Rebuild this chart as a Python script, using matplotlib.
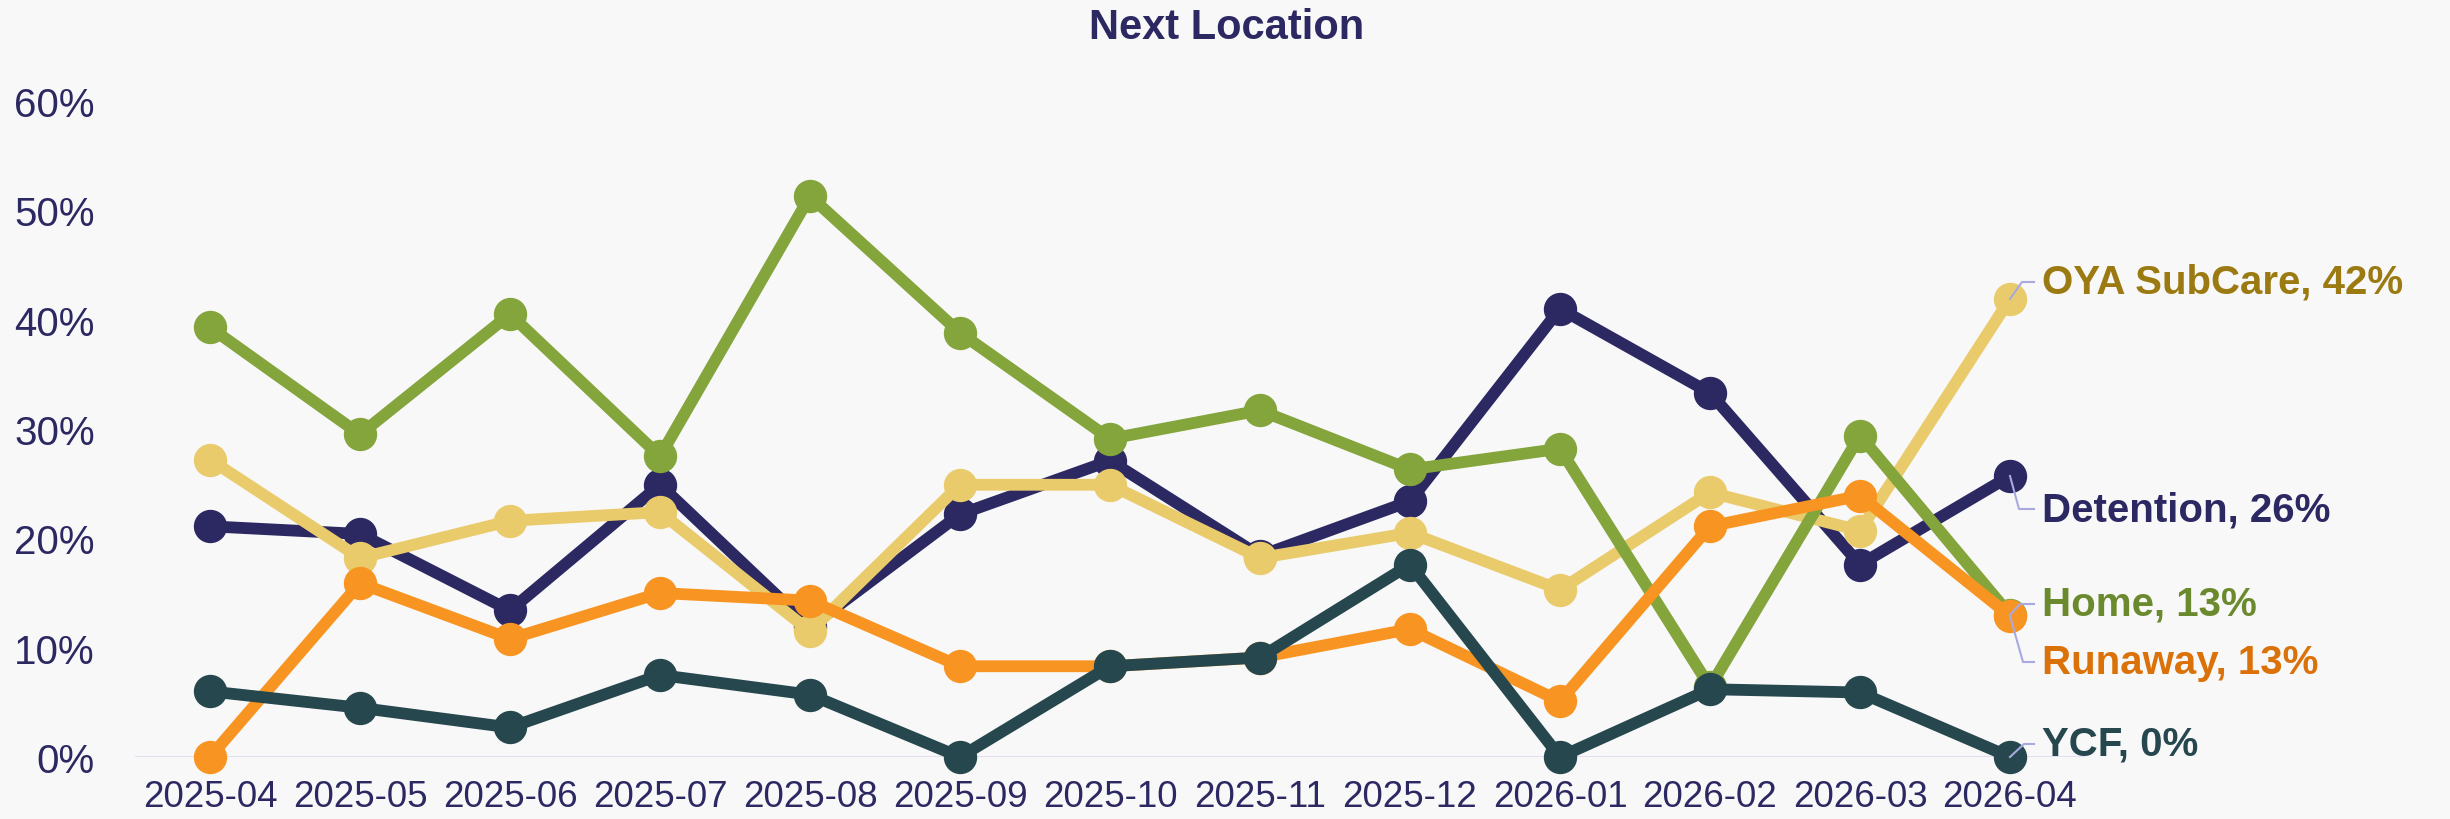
import numpy as np
import matplotlib
matplotlib.use("Agg")
import matplotlib.pyplot as plt
from matplotlib.lines import Line2D
from matplotlib.transforms import IdentityTransform

plt.rcParams['font.family'] = ['Liberation Sans', 'DejaVu Sans']

# data
months = ["2025-04", "2025-05", "2025-06", "2025-07", "2025-08", "2025-09", "2025-10",
          "2025-11", "2025-12", "2026-01", "2026-02", "2026-03", "2026-04"]
detention = [21.1, 20.4, 13.4, 24.9, 11.9, 22.2, 27.1, 18.4, 23.4, 41.0, 33.3, 17.6, 25.7]
oya_subcare = [27.2, 18.2, 21.6, 22.4, 11.5, 24.9, 24.9, 18.2, 20.5, 15.3, 24.2, 20.7, 41.9]
home = [39.3, 29.5, 40.5, 27.5, 51.3, 38.8, 29.1, 31.7, 26.3, 28.2, 6.4, 29.4, 13.0]
runaway = [0.0, 15.9, 10.8, 15.0, 14.3, 8.3, 8.3, 9.1, 11.7, 5.1, 21.1, 23.9, 12.9]
ycf = [6.0, 4.5, 2.7, 7.5, 5.7, 0.0, 8.3, 9.1, 17.6, 0.0, 6.2, 5.9, 0.0]

names = ["Detention", "OYA SubCare", "Home", "Runaway", "YCF"]
series = [detention, oya_subcare, home, runaway, ycf]
line_colors = ["#2B2862", "#EACB6C", "#84A43C", "#F89522", "#26474D"]
label_colors = ["#2B2862", "#9B7A12", "#6B8A2E", "#DB7209", "#26474D"]
# where the end labels sit (pixels from top of figure)
label_px_y = [510, 283, 605, 663, 745]
elbow_dx = [9, 12, 10, 13, 14]

W, H, DPI = 2450, 820, 100
fig = plt.figure(figsize=(W / DPI, H / DPI), dpi=DPI, facecolor="#F8F8F8")
ax = fig.add_axes([135 / W, 1 - 758 / H, (2085 - 135) / W, (758 - 102) / H])
ax.set_facecolor("#F8F8F8")

x = np.arange(len(months))
ax.axhline(0, color="#DCDCF0", lw=2, zorder=0)
for i, (vals, c) in enumerate(zip(series, line_colors)):
    ax.plot(x, np.array(vals) / 100, color=c, lw=8.5, marker="o", ms=23,
            solid_capstyle="round", solid_joinstyle="round", clip_on=False, zorder=2 + i)

ax.set_xlim(-0.5, 12.5)
ax.set_ylim(0, 0.6)
yt = np.arange(0, 0.61, 0.1)
ax.set_yticks(yt)
ax.set_yticklabels([f"{int(round(v * 100))}%" for v in yt])
ax.set_xticks(x)
ax.set_xticklabels(months)
ax.tick_params(axis="y", length=0, pad=29, labelsize=29, labelcolor="#2B2862")
ax.tick_params(axis="x", length=0, pad=16, labelsize=26.5, labelcolor="#2B2862")
for s in ax.spines.values():
    s.set_visible(False)

fig.text(1227 / W, 1 - 28 / H, "Next Location", ha="center", va="center",
         fontsize=30, fontweight="bold", color="#2B2862")

# end labels with leader lines (drawn in pixel coords)
for i, (vals, name, c, ly) in enumerate(zip(series, names, label_colors, label_px_y)):
    px, py = ax.transData.transform((12, vals[-1] / 100))
    ly_d = H - ly
    xe = px + elbow_dx[i]
    line = Line2D([px, xe, px + 24], [py, ly_d, ly_d], transform=IdentityTransform(),
                  color="#A9A9E2", lw=1.5, zorder=10)
    fig.add_artist(line)
    fig.text((px + 32) / W, ly_d / H, f"{name}, {vals[-1]:.0f}%", ha="left", va="center",
             fontsize=29, fontweight="bold", color=c)

fig.savefig("out.png", dpi=DPI, facecolor=fig.get_facecolor())
